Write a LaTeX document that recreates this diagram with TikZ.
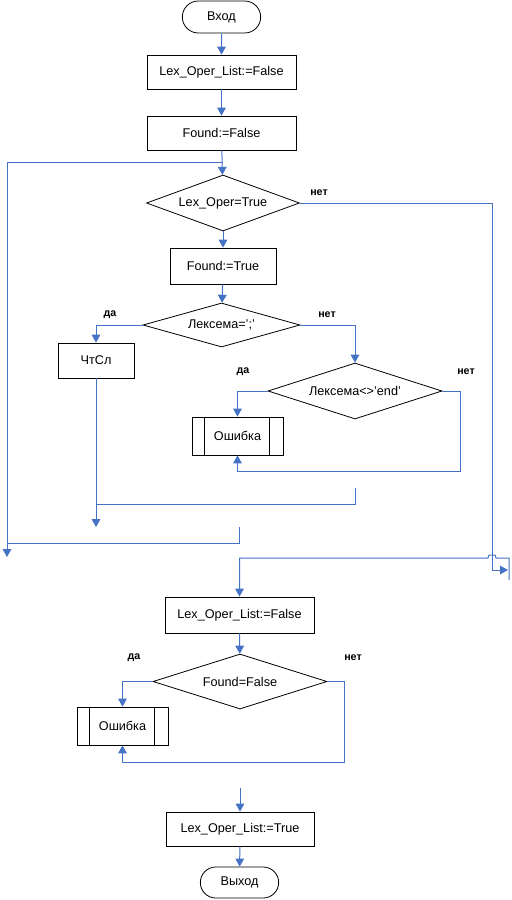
\documentclass[tikz,border=0pt]{standalone}
\usepackage{fontspec}
\setmainfont{Liberation Sans}
\usetikzlibrary{arrows.meta,shapes.geometric,shapes.misc,calc}
\definecolor{flowblue}{RGB}{68,114,196}

\begin{document}
\begin{tikzpicture}[x=0.75pt,y=-0.75pt,
  font=\fontsize{9.5}{11}\selectfont,
  box/.style={draw, line width=0.6pt, rectangle, inner sep=1pt},
  term/.style={box, rounded rectangle},
  cond/.style={box, diamond, aspect=3, inner sep=0pt},
  wire/.style={flowblue, line width=0.75pt},
  flow/.style={wire, -{Triangle[length=6pt,width=6.5pt]}},
  lbl/.style={font=\fontsize{8}{9}\selectfont\bfseries}]
\useasboundingbox (0,0) rectangle (511,900);

% blocks
\node[term, minimum width=60.75pt, minimum height=24pt] (start) at (221.5,17) {Вход};
\node[box, minimum width=111.75pt, minimum height=25.5pt] (b1) at (221.5,72) {Lex\_Oper\_List:=False};
\node[box, minimum width=111.75pt, minimum height=25.5pt] (b2) at (221.5,133) {Found:=False};
\node[cond, minimum width=114.75pt, minimum height=42pt] (d1) at (223,203) {Lex\_Oper=True};
\node[box, minimum width=79.5pt, minimum height=27pt] (b3) at (223,266) {Found:=True};
\node[cond, minimum width=117.75pt, minimum height=33pt] (d2) at (221.5,325) {Лексема=';'};
\node[box, minimum width=57pt, minimum height=26.25pt] (cs) at (96,360.5) {ЧтСл};
\node[cond, minimum width=130.5pt, minimum height=42pt] (d3) at (355,391) {Лексема<>'end'};
\node[box, minimum width=68.25pt, minimum height=28.5pt] (e1) at (237.5,436) {Ошибка};
\node[box, minimum width=111.75pt, minimum height=27pt] (b4) at (239.5,615) {Lex\_Oper\_List:=False};
\node[cond, minimum width=130.5pt, minimum height=41.25pt] (d4) at (240,681.5) {Found=False};
\node[box, minimum width=68.25pt, minimum height=28.5pt] (e2) at (122.5,726) {Ошибка};
\node[box, minimum width=111pt, minimum height=25.5pt] (b5) at (240,829) {Lex\_Oper\_List:=True};
\node[term, minimum width=60.75pt, minimum height=23.25pt] (stop) at (239.5,882.5) {Выход};

\foreach \e in {e1,e2}
  \draw[line width=0.6pt] ($(\e.north west)+(13,0)$) -- ($(\e.south west)+(13,0)$)
    ($(\e.north east)+(-14,0)$) -- ($(\e.south east)+(-14,0)$);

% labels
\foreach \i/\x/\y/\t in {1/319/193/нет, 2/110/315/да, 3/327/315/нет, 4/243/372/да,
  5/466/372/нет, 6/134/658/да, 7/353/658/нет}
  \node[lbl] (lab\i) at (\x,\y) {\t};

% free ends
\coordinate (j1) at (223,162);
\coordinate (lp1) at (7,557);
\coordinate (n1) at (508,570);
\coordinate (c1) at (96,527);
\coordinate (m1) at (355,488);
\coordinate (m2) at (239,527);
\coordinate (m3) at (509,580);
\coordinate (m4) at (240,788);

% connectors
\draw[flow] (start) -- (b1);
\draw[flow] (b1) -- (b2);
\draw[flow] (b2) -- (d1);
\draw[flow] (j1) -| (lp1);
\draw[flow] (d1.east) -| (492,570) -- (n1);
\draw[flow] (d1) -- (b3);
\draw[flow] (b3) -- (d2);
\draw[flow] (d2.west) -| (cs.north);
\draw[flow] (d2.east) -| (d3.north);
\draw[flow] (d3.west) -| (e1.north);
\draw[flow] (d3.east) -| (460,471) -| (e1.south);
\draw[flow] (cs.south) -- (c1);
\draw[wire] (m1) |- (96,504);
\draw[wire] (m2) |- (7,543);
\draw[flow] (m3) |- (496,558) -- (495,555) -- (489,555) -- (488,558) -| (b4.north);
\draw[flow] (b4) -- (d4);
\draw[flow] (d4.west) -| (e2.north);
\draw[flow] (d4.east) -| (344,762) -| (e2.south);
\draw[flow] (m4) -- (b5);
\draw[flow] (b5) -- (stop);
\end{tikzpicture}
\end{document}
